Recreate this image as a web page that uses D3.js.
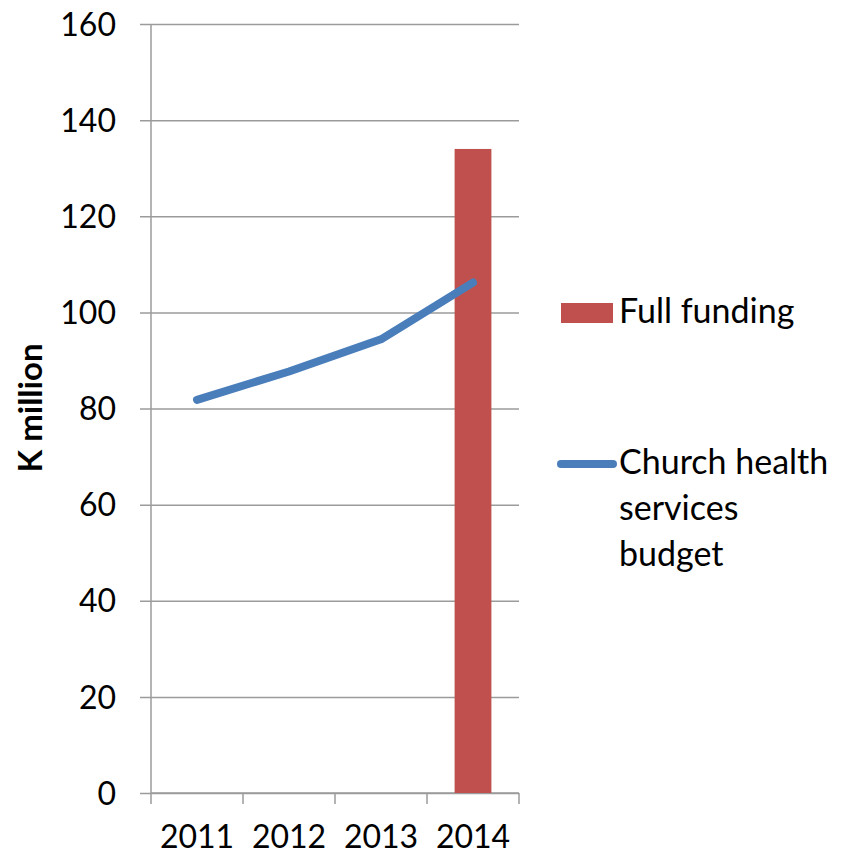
<!DOCTYPE html>
<html>
<head>
<meta charset="utf-8">
<script src="https://cdn.jsdelivr.net/npm/d3@7"></script>
<style>
  html, body { margin: 0; padding: 0; background: #fff; }
  svg { display: block; font-family: Lato, "Open Sans", sans-serif; }
</style>
</head>
<body>
<svg id="chart" width="842" height="856"></svg>
<script>
// Years on the category axis
const years = ["2011", "2012", "2013", "2014"];
// Full funding requirement (bar), only given for 2014
const fullFunding = [null, null, null, 134];
// Church health services budget (line)
const budget = [81.8, 87.7, 94.4, 106.2];
// Value axis ticks
const yTicks = [0, 20, 40, 60, 80, 100, 120, 140, 160];
// Legend entries, wrapped as drawn
const legendLines = [["Full funding"], ["Church health", "services", "budget"]];

const barColor = "#C0504D";
const lineColor = "#4A7EBB";
const gridColor = "#9b9b9b";

const svg = d3.select("#chart");
const plot = { left: 151, right: 519, top: 24, bottom: 793 };

const x = d3.scaleBand().domain(years).range([plot.left, plot.right]).padding(0);
const y = d3.scaleLinear().domain([0, 160]).range([plot.bottom, plot.top]);

// Horizontal gridlines with outside tick marks on the value axis
const yAxis = d3.axisLeft(y)
  .tickValues(yTicks)
  .tickSize(-(plot.right - plot.left))
  .tickSizeOuter(0)
  .tickPadding(35)
  .tickFormat(d3.format("d"));

const gy = svg.append("g")
  .attr("transform", `translate(${plot.left},0)`)
  .call(yAxis);
gy.select(".domain").remove();
gy.selectAll(".tick line")
  .attr("x1", -11)
  .attr("stroke", gridColor)
  .attr("stroke-width", 1.5);
gy.selectAll(".tick text")
  .attr("font-family", "Lato, 'Open Sans', sans-serif")
  .attr("font-size", 32)
  .attr("fill", "#000")
  .attr("dy", "0.35em");

// Vertical value-axis line
svg.append("line")
  .attr("x1", plot.left).attr("x2", plot.left)
  .attr("y1", plot.top).attr("y2", plot.bottom)
  .attr("stroke", gridColor).attr("stroke-width", 1.5);

// Category axis: ticks sit on band boundaries, labels at band centres
const gx = svg.append("g")
  .attr("transform", `translate(0,${plot.bottom})`);
gx.append("line")
  .attr("x1", plot.left).attr("x2", plot.right)
  .attr("stroke", gridColor).attr("stroke-width", 1.5);
const boundaries = years.map(d => x(d)).concat([x(years[years.length - 1]) + x.bandwidth()]);
gx.selectAll("line.tick")
  .data(boundaries)
  .join("line")
  .attr("class", "tick")
  .attr("x1", d => d).attr("x2", d => d)
  .attr("y1", 0).attr("y2", 11)
  .attr("stroke", gridColor).attr("stroke-width", 1.5);
gx.selectAll("text")
  .data(years)
  .join("text")
  .attr("x", d => x(d) + x.bandwidth() / 2)
  .attr("y", 55)
  .attr("text-anchor", "middle")
  .attr("font-size", 32)
  .attr("fill", "#000")
  .text(d => d);

// Bars
const barWidth = x.bandwidth() * 0.4;
svg.append("g")
  .selectAll("rect")
  .data(years.map((yr, i) => ({ yr, v: fullFunding[i] })).filter(d => d.v != null))
  .join("rect")
  .attr("x", d => x(d.yr) + (x.bandwidth() - barWidth) / 2)
  .attr("y", d => y(d.v))
  .attr("width", barWidth)
  .attr("height", d => y(0) - y(d.v))
  .attr("fill", barColor);

// Budget line
const line = d3.line()
  .x((d, i) => x(years[i]) + x.bandwidth() / 2)
  .y(d => y(d));
svg.append("path")
  .datum(budget)
  .attr("d", line)
  .attr("fill", "none")
  .attr("stroke", lineColor)
  .attr("stroke-width", 8)
  .attr("stroke-linecap", "round")
  .attr("stroke-linejoin", "round");

// Value axis title
svg.append("text")
  .attr("transform", "translate(42,408) rotate(-90)")
  .attr("text-anchor", "middle")
  .attr("font-size", 33)
  .attr("font-weight", "bold")
  .attr("fill", "#000")
  .text("K million");

// Legend
const legend = svg.append("g");
legend.append("rect")
  .attr("x", 561).attr("y", 303)
  .attr("width", 52).attr("height", 20)
  .attr("fill", barColor);
legend.append("line")
  .attr("x1", 561).attr("x2", 613)
  .attr("y1", 464).attr("y2", 464)
  .attr("stroke", lineColor)
  .attr("stroke-width", 8)
  .attr("stroke-linecap", "round");

const legendBaselines = [[323], [474, 520, 566]];
legendLines.forEach((rows, i) => {
  const t = legend.append("text")
    .attr("font-size", 34)
    .attr("fill", "#000");
  rows.forEach((row, j) => {
    t.append("tspan")
      .attr("x", 619)
      .attr("y", legendBaselines[i][j])
      .text(row);
  });
});
</script>
</body>
</html>
